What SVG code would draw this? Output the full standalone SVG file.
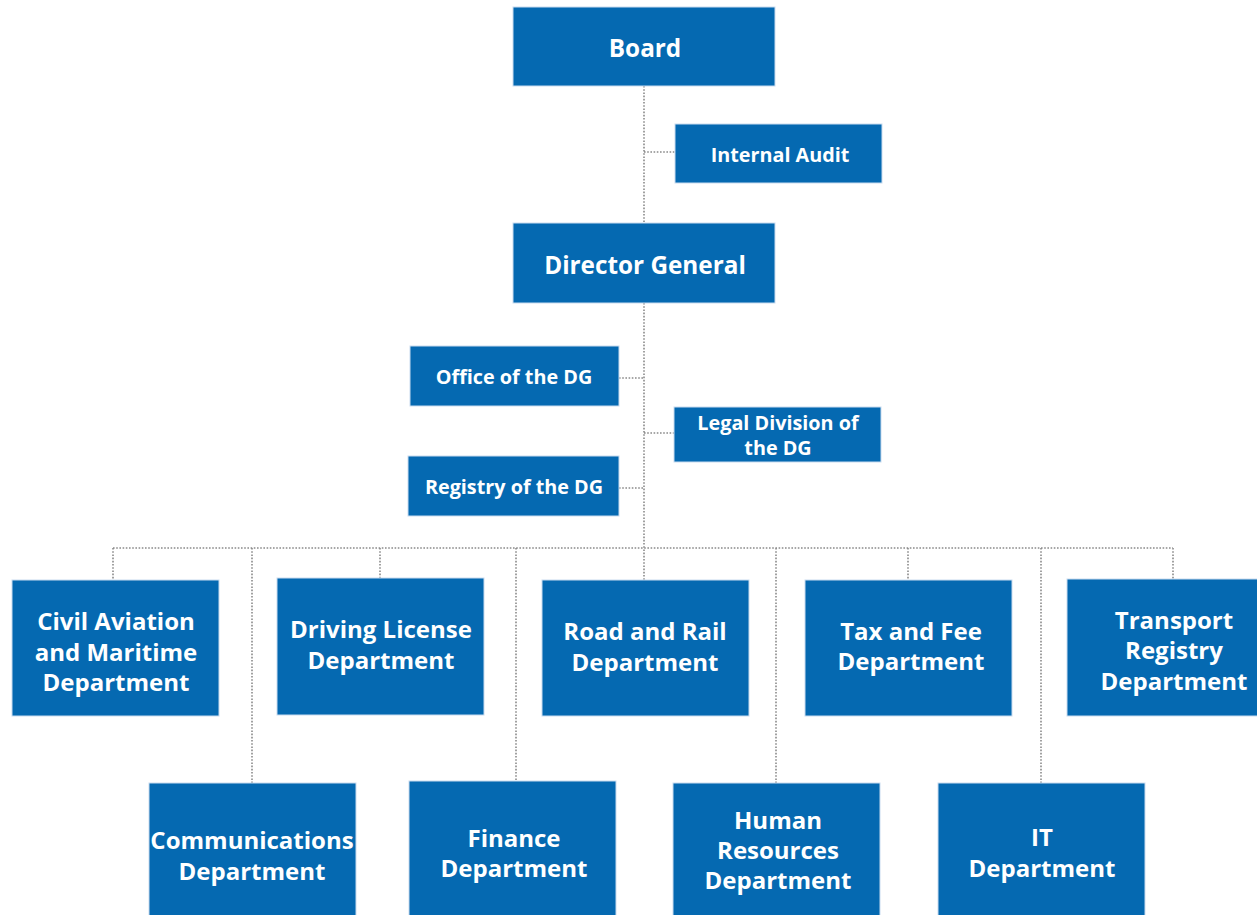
<svg xmlns="http://www.w3.org/2000/svg" width="1257" height="915" viewBox="0 0 1257 915">
<style>
.box{fill:#0569b1;stroke:#c9dcef;stroke-width:1}
.t{font-family:"Open Sans",Lato,"Liberation Sans",sans-serif;font-weight:bold;fill:#fff;text-anchor:middle}
.big{font-size:24px}
.mid{font-size:24.3px}
.sm{font-size:19.8px}
.c{fill:none;stroke:#8a8a8a;stroke-width:1.6;stroke-dasharray:1.6 1.6}
</style>
<rect width="1257" height="915" fill="#fff"/>
<g id="connectors">
<path class="c" d="M644 86V223M644 152H675M644 303V580M619 378H644M644 433H674M619 488H644"/>
<path class="c" d="M113 548H1173M113 548V580M252 548V783M380 548V578M516 548V781M776 548V783M908 548V580M1041 548V783M1173 548V579"/>
</g>
<g id="board"><rect class="box" x="513" y="7" width="262" height="79"/><text class="t mid" x="645" y="57">Board</text></g>
<g id="internal-audit"><rect class="box" x="675" y="124" width="207" height="59"/><text class="t sm" x="780" y="162">Internal Audit</text></g>
<g id="director-general"><rect class="box" x="513" y="223" width="262" height="80"/><text class="t mid" x="645" y="274">Director General</text></g>
<g id="office-dg"><rect class="box" x="410" y="346" width="209" height="60"/><text class="t sm" x="514" y="384">Office of the DG</text></g>
<g id="legal-dg"><rect class="box" x="674" y="407" width="207" height="55"/><text class="t sm" x="778" y="430">Legal Division of</text><text class="t sm" x="778" y="455">the DG</text></g>
<g id="registry-dg"><rect class="box" x="408" y="456" width="211" height="60"/><text class="t sm" x="514" y="494">Registry of the DG</text></g>
<g id="civil-aviation"><rect class="box" x="12" y="580" width="207" height="136"/><text class="t big" x="116" y="630">Civil Aviation</text><text class="t big" x="116" y="661">and Maritime</text><text class="t big" x="116" y="691">Department</text></g>
<g id="driving-license"><rect class="box" x="277" y="578" width="207" height="137"/><text class="t big" x="381" y="638">Driving License</text><text class="t big" x="381" y="669">Department</text></g>
<g id="road-rail"><rect class="box" x="542" y="580" width="207" height="136"/><text class="t big" x="645" y="640">Road and Rail</text><text class="t big" x="645" y="671">Department</text></g>
<g id="tax-fee"><rect class="box" x="805" y="580" width="207" height="136"/><text class="t big" x="911" y="640">Tax and Fee</text><text class="t big" x="911" y="670">Department</text></g>
<g id="transport-registry"><rect class="box" x="1067" y="579" width="192" height="137"/><text class="t big" x="1174" y="629">Transport</text><text class="t big" x="1174" y="659">Registry</text><text class="t big" x="1174" y="690">Department</text></g>
<g id="communications"><rect class="box" x="149" y="783" width="207" height="134"/><text class="t big" x="252" y="849">Communications</text><text class="t big" x="252" y="880">Department</text></g>
<g id="finance"><rect class="box" x="409" y="781" width="207" height="136"/><text class="t big" x="514" y="847">Finance</text><text class="t big" x="514" y="877">Department</text></g>
<g id="human-resources"><rect class="box" x="673" y="783" width="207" height="134"/><text class="t big" x="778" y="829">Human</text><text class="t big" x="778" y="859">Resources</text><text class="t big" x="778" y="889">Department</text></g>
<g id="it"><rect class="box" x="938" y="783" width="207" height="134"/><text class="t big" x="1042" y="846">IT</text><text class="t big" x="1042" y="877">Department</text></g>
</svg>
